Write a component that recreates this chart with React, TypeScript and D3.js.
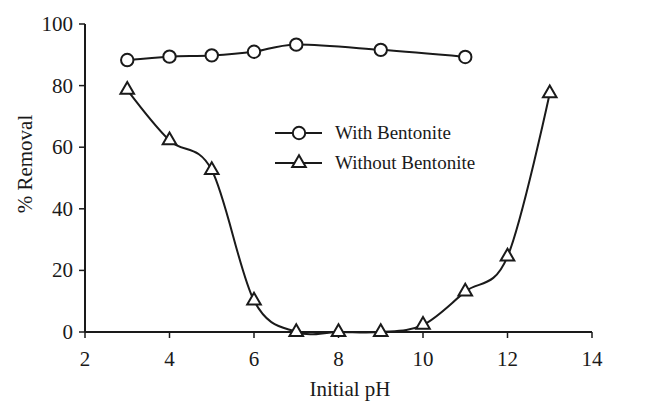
import React from "react";
import * as d3 from "d3";

const phWith = [3, 4, 5, 6, 7, 9, 11];
const removalWith = [88.3, 89.4, 89.8, 91.0, 93.3, 91.6, 89.3];
const phWithout = [3, 4, 5, 6, 7, 8, 9, 10, 11, 12, 13];
const removalWithout = [78.6, 62.2, 52.6, 10.2, 0, 0, 0, 2.3, 13.1, 24.5, 77.5];
const xTicks = [2, 4, 6, 8, 10, 12, 14];
const yTicks = [0, 20, 40, 60, 80, 100];
const legendLabels = ["With Bentonite", "Without Bentonite"];

export default function App() {
  const W = 650, H = 402;
  const x = d3.scaleLinear().domain([2, 14]).range([85, 592]);
  const y = d3.scaleLinear().domain([0, 100]).range([332, 24]);
  const line = d3
    .line<[number, number]>()
    .x((d) => x(d[0]))
    .y((d) => y(d[1]))
    .curve(d3.curveCatmullRom.alpha(0));
  const withPts: [number, number][] = phWith.map((p, i) => [p, removalWith[i]]);
  const withoutPts: [number, number][] = phWithout.map((p, i) => [p, removalWithout[i]]);
  const tri = d3.symbol().type(d3.symbolTriangle).size(80)();
  const font = "'Liberation Serif', 'Times New Roman', serif";
  const color = "#1a1a1a";
  return (
    <svg width={W} height={H} style={{ position: "absolute", left: 0, top: 0, background: "#fff" }}>
      <g fontFamily={font} fill={color}>
        {/* axes */}
        <line x1={x(2)} x2={x(14)} y1={y(0)} y2={y(0)} stroke={color} strokeWidth={2} />
        <line x1={x(2)} x2={x(2)} y1={y(0)} y2={y(100)} stroke={color} strokeWidth={2} />
        {xTicks.map((t) => (
          <g key={"x" + t}>
            <line x1={x(t)} x2={x(t)} y1={y(0)} y2={y(0) + 6} stroke={color} strokeWidth={1.5} />
            <text x={x(t)} y={y(0) + 34} textAnchor="middle" fontSize={21}>{t}</text>
          </g>
        ))}
        {yTicks.map((t) => (
          <g key={"y" + t}>
            <line x1={x(2) - 6} x2={x(2)} y1={y(t)} y2={y(t)} stroke={color} strokeWidth={1.5} />
            <text x={x(2) - 12} y={y(t) + 7} textAnchor="end" fontSize={21}>{t}</text>
          </g>
        ))}
        <text x={350} y={396} textAnchor="middle" fontSize={21}>Initial pH</text>
        <text transform={`translate(32,164) rotate(-90)`} textAnchor="middle" fontSize={21}>% Removal</text>

        {/* series */}
        <path d={line(withPts) || ""} fill="none" stroke={color} strokeWidth={2} />
        <path d={line(withoutPts) || ""} fill="none" stroke={color} strokeWidth={2} />
        {withPts.map((d, i) => (
          <circle key={"c" + i} cx={x(d[0])} cy={y(d[1])} r={6.2} fill="#fff" stroke={color} strokeWidth={2} />
        ))}
        {withoutPts.map((d, i) => (
          <path key={"t" + i} d={tri || ""} transform={`translate(${x(d[0])},${y(d[1])})`} fill="#fff" stroke={color} strokeWidth={2} />
        ))}

        {/* legend */}
        <line x1={275} x2={322} y1={133} y2={133} stroke={color} strokeWidth={2} />
        <circle cx={299} cy={133} r={6.2} fill="#fff" stroke={color} strokeWidth={2} />
        <text x={335} y={139} fontSize={19}>{legendLabels[0]}</text>
        <line x1={275} x2={322} y1={163} y2={163} stroke={color} strokeWidth={2} />
        <path d={tri || ""} transform={`translate(299,163)`} fill="#fff" stroke={color} strokeWidth={2} />
        <text x={335} y={169} fontSize={19}>{legendLabels[1]}</text>
      </g>
    </svg>
  );
}
